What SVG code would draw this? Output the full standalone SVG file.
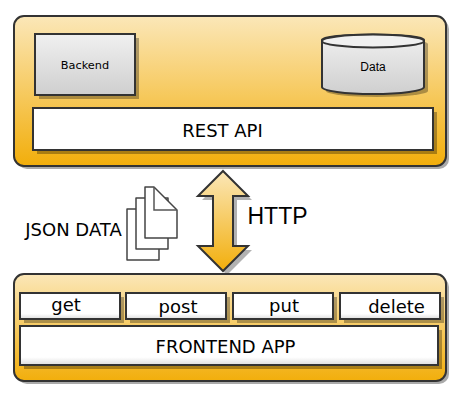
<svg xmlns="http://www.w3.org/2000/svg" width="468" height="404" viewBox="0 0 468 404">
<style>
text{font-family:"DejaVu Sans",sans-serif;fill:#000;text-anchor:middle}
.s{stroke:#333;stroke-width:2}
.panel{fill:url(#gold)}
.shade{fill:#000;opacity:.3}
.gray{fill:url(#grey)}
.white{fill:url(#wh)}
.plain{fill:#fff}
.doc{fill:#fff;stroke:#444;stroke-width:1.5;stroke-linejoin:round}
.big{font-size:18px}
</style>
<defs>
<linearGradient id="gold" x1="0" y1="0" x2="0" y2="1"><stop offset="0" stop-color="#fbe7b8"/><stop offset="1" stop-color="#f2ae0b"/></linearGradient>
<linearGradient id="grey" x1="0" y1="0" x2="0" y2="1"><stop offset="0" stop-color="#f0f0f0"/><stop offset="1" stop-color="#cfcfcf"/></linearGradient>
<linearGradient id="wh" x1="0" y1="0" x2="0" y2="1"><stop offset="0" stop-color="#fff"/><stop offset=".8" stop-color="#fff"/><stop offset="1" stop-color="#ddd"/></linearGradient>
</defs>
<g id="backend-panel">
<rect x="17" y="19" width="432" height="150" rx="10" fill="#aaa"/>
<rect class="panel s" x="14" y="16" width="432" height="150" rx="10"/>
</g>
<g id="backend">
<rect class="shade" x="39" y="38" width="100" height="61"/>
<rect class="gray s" x="35" y="34" width="100" height="61"/>
<text x="85" y="68.500" style="font-size:11.300px">Backend</text>
</g>
<g id="data">
<path class="shade" d="M326 44a51 6 0 0 1 102 0v47a51 6 0 0 1-102 0z"/>
<path class="gray s" d="M322 40a51 5.500 0 0 1 102 0v47a51 7 0 0 1-102 0z"/>
<ellipse cx="373" cy="41" rx="51" ry="6.500" fill="#f0f0f0" class="s"/>
<text x="373" y="71" style="font-family:'Liberation Sans',sans-serif;font-size:12px">Data</text>
</g>
<g id="rest-api">
<rect class="shade" x="37" y="112" width="400" height="42"/>
<rect class="plain s" x="33" y="108" width="400" height="42"/>
<text class="big" x="222.500" y="137">REST API</text>
</g>
<g id="json-data">
<path class="doc" d="M127 209h32v51h-32z"/>
<path class="doc" d="M136 198h32v51h-32z"/>
<path class="doc" d="M145 187h9l23 23v28h-32z"/>
<path d="M154 187v23h23" fill="none" stroke="#555" stroke-width="1.500"/>
<text class="big" x="73.500" y="236">JSON DATA</text>
</g>
<g id="connectors">
<path class="shade" d="M227 175l25 25h-15v50h15l-25 25-25-25h15v-50h-15z"/>
<path id="http-arrow" fill="url(#gold)" class="s" stroke-linejoin="miter" d="M223 171l25 25h-15v50h15l-25 25-25-25h15v-50h-15z"/>
</g>
<text x="277.500" y="224" style="font-family:'Liberation Sans',sans-serif;font-size:23px">HTTP</text>
<g id="frontend-panel">
<rect x="17" y="277" width="432" height="107" rx="10" fill="#aaa"/>
<rect class="panel s" x="14" y="274" width="432" height="107" rx="10"/>
</g>
<g id="get">
<rect class="shade" x="24" y="297" width="100" height="26"/>
<rect class="white s" x="20" y="293" width="100" height="26"/>
<text class="big" x="66" y="311">get</text>
</g>
<g id="post">
<rect class="shade" x="130" y="297" width="100" height="26"/>
<rect class="white s" x="126" y="293" width="100" height="26"/>
<text class="big" x="178" y="312.500">post</text>
</g>
<g id="put">
<rect class="shade" x="237" y="297" width="100" height="26"/>
<rect class="white s" x="233" y="293" width="100" height="26"/>
<text class="big" x="284" y="312">put</text>
</g>
<g id="delete">
<rect class="shade" x="344" y="297" width="100" height="26"/>
<rect class="white s" x="340" y="293" width="100" height="26"/>
<text class="big" x="396.500" y="313">delete</text>
</g>
<g id="frontend-app">
<rect class="shade" x="24" y="330" width="418" height="39"/>
<rect class="white s" x="20" y="326" width="418" height="39"/>
<text class="big" x="225.500" y="353">FRONTEND APP</text>
</g>
</svg>
